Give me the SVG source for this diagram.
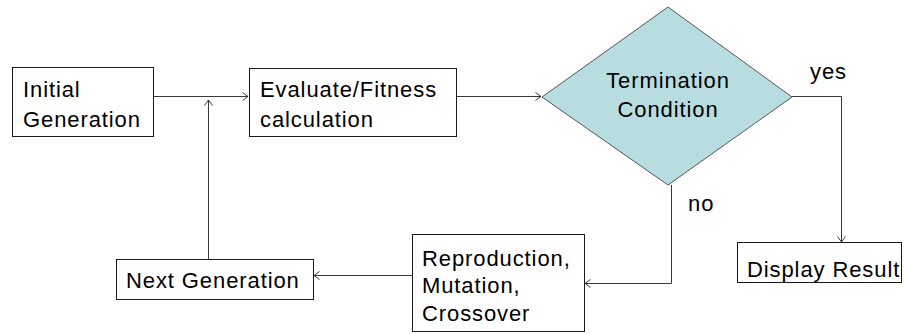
<svg xmlns="http://www.w3.org/2000/svg" width="904" height="334" viewBox="0 0 904 334">
  <style>
    .box { fill: #ffffff; stroke: #1a1a1a; stroke-width: 1; }
    .dec { fill: #b7dde1; stroke: #555555; stroke-width: 1; }
    .lbl { font-family: "Liberation Sans", Arial, sans-serif; font-size: 22px; letter-spacing: 0.9px; fill: #000000; }
    .mid { text-anchor: middle; }
    .wire { fill: none; stroke: #3a3a3a; stroke-width: 1; }
  </style>
  <defs>
    <marker id="arrow" markerWidth="8" markerHeight="10" refX="6" refY="4.5" orient="auto" markerUnits="userSpaceOnUse">
      <path d="M0.5,0.5 L6,4.5 L0.5,8.5" fill="none" stroke="#3a3a3a" stroke-width="1"/>
    </marker>
  </defs>

  <g id="connectors">
    <path class="wire" d="M154,96.5 H248" marker-end="url(#arrow)"/>
    <path class="wire" d="M208.5,259 V100" marker-end="url(#arrow)"/>
    <path class="wire" d="M456,96.5 H541" marker-end="url(#arrow)"/>
    <path class="wire" d="M792,96.5 H841.5 V242" marker-end="url(#arrow)"/>
    <path class="wire" d="M671.5,185 V283.5 H585" marker-end="url(#arrow)"/>
    <path class="wire" d="M412,275.5 H314" marker-end="url(#arrow)"/>
  </g>

  <g id="initial-generation">
    <rect class="box" x="12.5" y="67.5" width="141" height="69"/>
    <text class="lbl" x="23" y="96.5">Initial</text>
    <text class="lbl" x="23" y="127">Generation</text>
  </g>

  <g id="evaluate-fitness">
    <rect class="box" x="249.5" y="68.5" width="207" height="68"/>
    <text class="lbl" x="260" y="96.5">Evaluate/Fitness</text>
    <text class="lbl" x="260" y="127">calculation</text>
  </g>

  <g id="termination-condition">
    <polygon class="dec" points="668,7 792,97 668,185 542,97"/>
    <text class="lbl mid" x="668" y="88">Termination</text>
    <text class="lbl mid" x="668" y="117">Condition</text>
  </g>

  <g id="display-result">
    <rect class="box" x="737.5" y="242.5" width="164" height="40"/>
    <text class="lbl" x="747" y="276.5">Display Result</text>
  </g>

  <g id="reproduction">
    <rect class="box" x="412.5" y="234.5" width="172" height="97"/>
    <text class="lbl" x="422" y="266">Reproduction,</text>
    <text class="lbl" x="422" y="293">Mutation,</text>
    <text class="lbl" x="422" y="320.5">Crossover</text>
  </g>

  <g id="next-generation">
    <rect class="box" x="116.5" y="259.5" width="197" height="40"/>
    <text class="lbl" x="126" y="288">Next Generation</text>
  </g>

  <g id="branch-labels">
    <text class="lbl" x="810" y="79">yes</text>
    <text class="lbl" x="688" y="211">no</text>
  </g>
</svg>
